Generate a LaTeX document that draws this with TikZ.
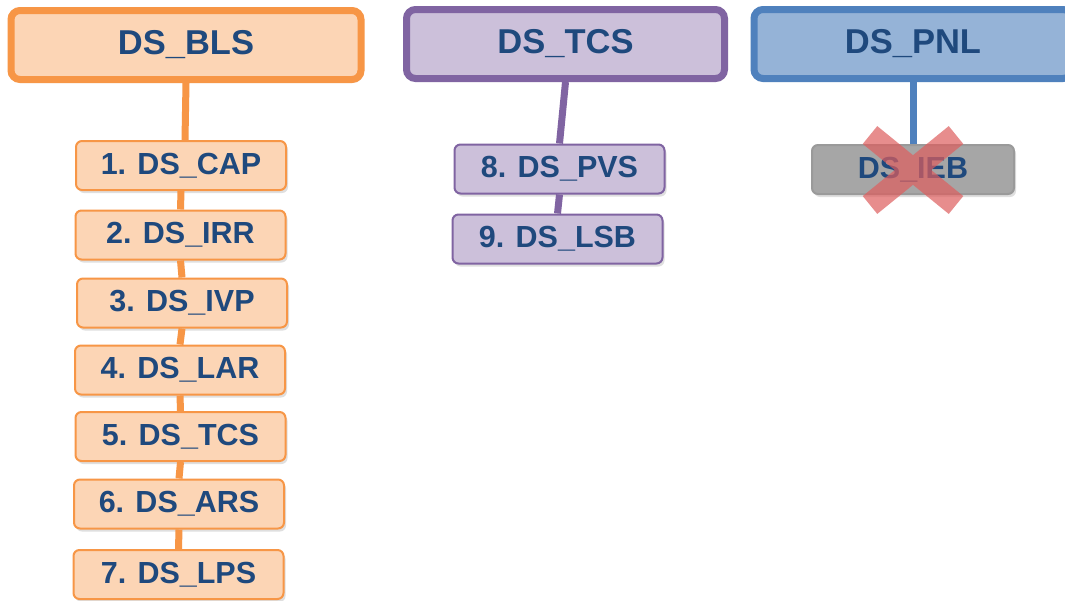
\documentclass[tikz,border=0pt]{standalone}
\usepackage{fontspec}
\setmainfont{Liberation Sans}
\usetikzlibrary{shadows}
\definecolor{orB}{HTML}{F79646}
\definecolor{orF}{HTML}{FCD5B5}
\definecolor{puB}{HTML}{8064A2}
\definecolor{puF}{HTML}{CCC0DA}
\definecolor{blB}{HTML}{4F81BD}
\definecolor{blF}{HTML}{95B3D7}
\definecolor{txt}{HTML}{1F497D}
\definecolor{grF}{HTML}{A6A6A6}
\definecolor{grB}{HTML}{9A9A9A}
\definecolor{xred}{HTML}{DE5E5E}
\tikzset{
  shade/.style={drop shadow={opacity=0.25,shadow xshift=2pt,shadow yshift=-3pt}},
  headbox/.style={shade,rounded corners=9pt,line width=7pt,minimum height=69pt,
    text=txt,font=\bfseries\fontsize{34.5}{40}\selectfont,inner sep=0pt},
  childbox/.style={shade,rounded corners=6pt,line width=2pt,minimum width=210pt,minimum height=49pt,
    text=txt,font=\bfseries\fontsize{30.5}{35}\selectfont,inner sep=0pt},
  conn/.style={line width=7pt},
}
\begin{document}
\begin{tikzpicture}[x=1pt,y=-1pt]
\clip (0,0) rectangle (1065,600);
\fill[white] (0,0) rectangle (1065,600);
% heads
\node[headbox,draw=orB,fill=orF,minimum width=350pt] (bls) at (186,45) {DS\_BLS};
\node[headbox,draw=puB,fill=puF,minimum width=318pt] (tcs) at (565.5,44) {DS\_TCS};
\node[headbox,draw=blB,fill=blF,minimum width=318pt] (pnl) at (913,44) {DS\_PNL};
% orange children
\node[childbox,draw=orB,fill=orF] (c1) at (181,165.5) {1. DS\_CAP};
\node[childbox,draw=orB,fill=orF] (c2) at (180.5,235) {2. DS\_IRR};
\node[childbox,draw=orB,fill=orF] (c3) at (182,303) {3. DS\_IVP};
\node[childbox,draw=orB,fill=orF] (c4) at (180,370) {4. DS\_LAR};
\node[childbox,draw=orB,fill=orF] (c5) at (180.5,436.5) {5. DS\_TCS};
\node[childbox,draw=orB,fill=orF] (c6) at (179,504) {6. DS\_ARS};
\node[childbox,draw=orB,fill=orF] (c7) at (178.5,574.5) {7. DS\_LPS};
% purple children
\node[childbox,draw=puB,fill=puF] (c8) at (559.5,169) {8. DS\_PVS};
\node[childbox,draw=puB,fill=puF] (c9) at (557.5,239) {9. DS\_LSB};
% gray child
\node[childbox,draw=grB,fill=grF,minimum width=202pt] (ieb) at (913,169.5) {DS\_IEB};
% connectors
\draw[conn,orB] (bls.south) -- ([xshift=4pt]c1.north);
\foreach \a/\b in {c1/c2,c2/c3,c3/c4,c4/c5,c5/c6,c6/c7}
  \draw[conn,orB] (\a.south) -- (\b.north);
\draw[conn,puB] (tcs.south) -- (c8.north);
\draw[conn,puB] (c8.south) -- (c9.north);
\draw[conn,blB] (ieb.north |- pnl.south) -- (ieb.north);
% cross
\coordinate (xa) at (870,135);
\coordinate (xb) at (956,205);
\coordinate (xc) at (956,135);
\coordinate (xd) at (870,205);
\draw[xred,opacity=0.7,line width=23pt,line cap=butt] (xa) -- (xb) (xc) -- (xd);
\end{tikzpicture}
\end{document}
